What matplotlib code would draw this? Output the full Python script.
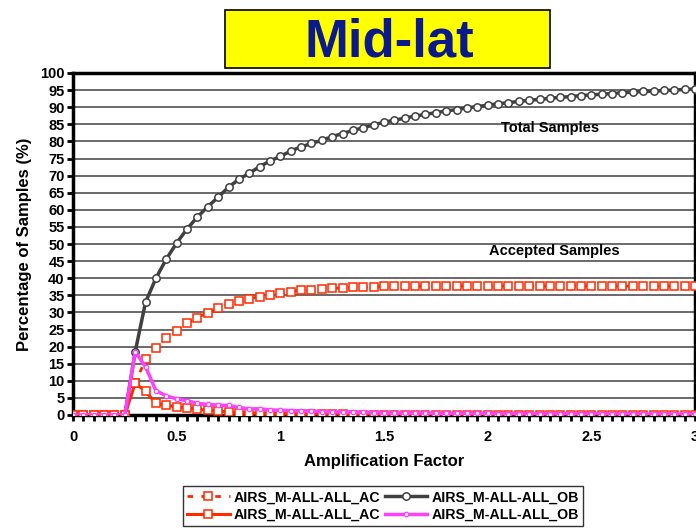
import matplotlib
matplotlib.use("Agg")
import matplotlib.pyplot as plt
from matplotlib.patches import Rectangle
import numpy as np

plt.rcParams['font.family'] = ['Liberation Sans', 'DejaVu Sans']
plt.rcParams['font.weight'] = 'bold'

# Amplification factor bins
amp = [round(0.05 * i, 2) for i in range(61)]

# Cumulative percentage of all observed samples
total_cum = [0, 0, 0, 0, 0, 0, 18.5, 33.0, 40.0, 45.6, 50.3, 54.4, 57.9, 60.9, 63.7,
             66.6, 68.9, 70.7, 72.6, 74.3, 75.6, 77.2, 78.4, 79.4, 80.3, 81.4, 82.3,
             83.2, 84.0, 84.8, 85.6, 86.2, 86.8, 87.4, 87.9, 88.4, 88.9, 89.3, 89.8,
             90.2, 90.6, 91.0, 91.3, 91.7, 92.0, 92.3, 92.6, 92.9, 93.1, 93.4, 93.6,
             93.8, 94.0, 94.2, 94.4, 94.6, 94.7, 94.9, 95.0, 95.2, 95.3]

# Cumulative percentage of accepted samples
accepted_cum = [0, 0, 0, 0, 0, 0, 9.3, 16.3, 19.7, 22.4, 24.7, 26.8, 28.5, 29.9, 31.2,
                32.5, 33.3, 34.0, 34.6, 35.2, 35.6, 36.1, 36.5, 36.6, 36.8, 37.0, 37.2,
                37.3, 37.4, 37.5, 37.6, 37.6, 37.6, 37.7, 37.7, 37.7, 37.7, 37.7, 37.7,
                37.7, 37.7, 37.7, 37.7, 37.7, 37.7, 37.7, 37.7, 37.7, 37.7, 37.7, 37.7,
                37.7, 37.7, 37.7, 37.7, 37.7, 37.7, 37.7, 37.7, 37.7, 37.7]

# Per-bin percentage of accepted samples
accepted_bin = [0, 0, 0, 0, 0, 0, 9.3, 6.9, 3.4, 2.8, 2.4, 2.0, 1.7, 1.4, 1.2,
                0.9, 0.7, 0.6, 0.5, 0.4, 0.4, 0.4, 0.3, 0.2, 0.2, 0.2, 0.2, 0.1, 0.1,
                0.1, 0.1, 0.1, 0.1, 0.1, 0.1, 0.1, 0.1, 0.1, 0.1, 0.1, 0.1, 0.1, 0.1,
                0.1, 0.1, 0.1, 0.1, 0.1, 0.1, 0.1, 0.1, 0.1, 0.1, 0.1, 0.1, 0.1, 0.1,
                0.1, 0.1, 0.1, 0.1]

# Per-bin percentage of all observed samples
total_bin = [0, 0, 0, 0, 0, 0, 18.5, 14.1, 7.1, 5.6, 4.7, 4.2, 3.4, 3.1, 2.9,
             2.8, 2.2, 1.8, 1.8, 1.5, 1.4, 1.3, 1.2, 1.1, 1.0, 0.9, 0.9, 0.8, 0.8,
             0.7, 0.6, 0.6, 0.6, 0.6, 0.6, 0.5, 0.5, 0.5, 0.5, 0.5, 0.5, 0.4, 0.4,
             0.4, 0.4, 0.4, 0.4, 0.4, 0.4, 0.4, 0.4, 0.3, 0.3, 0.3, 0.3, 0.3, 0.3,
             0.3, 0.3, 0.3, 0.3]

series_label_ac = "AIRS_M-ALL-ALL_AC"
series_label_ob = "AIRS_M-ALL-ALL_OB"

fig = plt.figure(figsize=(6.96, 5.28), dpi=100)
ax = fig.add_axes([73 / 696, (528 - 415) / 528, (695 - 73) / 696, (415 - 73) / 528])

red = '#ff2a00'
pink = '#ff40ff'
gray = '#404040'

l_acc_cum, = ax.plot(amp, accepted_cum, color=red, lw=2, ls=(0, (2, 3)),
                     marker='s', ms=5.3, mfc='white', mec=red, mew=1.1,
                     label=series_label_ac, zorder=4)
l_acc_bin, = ax.plot(amp, accepted_bin, color=red, lw=2.2,
                     marker='s', ms=5.3, mfc='white', mec=red, mew=1.1,
                     label=series_label_ac, zorder=5)
l_tot_cum, = ax.plot(amp, total_cum, color=gray, lw=2.5,
                     marker='o', ms=5.3, mfc='white', mec=gray, mew=1.1,
                     label=series_label_ob, zorder=3)
l_tot_bin, = ax.plot(amp, total_bin, color=pink, lw=2.5,
                     marker='o', ms=3.2, mfc='white', mec=pink, mew=0.9,
                     label=series_label_ob, zorder=6)

ax.set_xlim(0, 3)
ax.set_ylim(0, 100)
ax.set_yticks(np.arange(0, 101, 5))
ax.set_xticks([0, 0.5, 1, 1.5, 2, 2.5, 3])
ax.set_xticklabels(['0', '0.5', '1', '1.5', '2', '2.5', '3'])
ax.set_xticks(np.arange(0, 3.001, 0.05), minor=True)
ax.yaxis.grid(True, color='#505050', lw=1.2)
ax.set_axisbelow(True)

ax.tick_params(axis='both', which='major', labelsize=10.5, width=2, length=4, direction='out')
ax.tick_params(axis='x', which='minor', width=2, length=4, direction='out')
ax.tick_params(axis='x', pad=7)
ax.tick_params(axis='y', pad=2)
for lab in ax.get_xticklabels() + ax.get_yticklabels():
    lab.set_fontweight('bold')
for sp in ax.spines.values():
    sp.set_linewidth(2.5)
    sp.set_color('black')

ax.set_xlabel('Amplification Factor', fontsize=12, fontweight='bold', labelpad=7)
ax.set_ylabel('Percentage of Samples (%)', fontsize=12, fontweight='bold', labelpad=6)

ax.text(2.30, 84.0, 'Total Samples', fontsize=10.5, fontweight='bold', ha='center', va='center')
ax.text(2.32, 48.0, 'Accepted Samples', fontsize=10.5, fontweight='bold', ha='center', va='center')

# Title banner
fig.patches.append(Rectangle((225 / 696, 1 - 68 / 528), 325 / 696, 58 / 528,
                             transform=fig.transFigure, facecolor='#ffff00',
                             edgecolor='black', lw=1.2, zorder=0))
fig.text(389 / 696, 1 - 37 / 528, 'Mid-lat', fontsize=38, fontweight='bold',
         color='#0a1a8c', ha='center', va='center_baseline')

leg = fig.legend(handles=[l_acc_cum, l_acc_bin, l_tot_cum, l_tot_bin],
                 labels=[series_label_ac, series_label_ac, series_label_ob, series_label_ob],
                 ncol=2, loc='lower center', bbox_to_anchor=(383 / 696, -0.01),
                 frameon=True, fancybox=False, edgecolor='black',
                 prop={'weight': 'bold', 'size': 10.2}, handlelength=3.0,
                 columnspacing=0.3, handletextpad=0.3, labelspacing=0.25,
                 borderpad=0.3)
leg.get_frame().set_linewidth(1.0)

fig.savefig('out.png', dpi=100)
